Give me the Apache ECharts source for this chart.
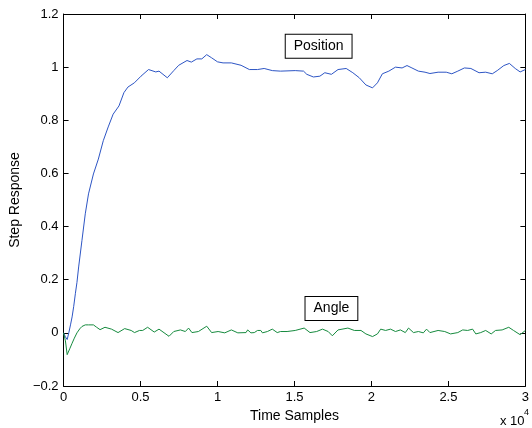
<!DOCTYPE html>
<html><head><meta charset="utf-8">
<script src="https://cdn.jsdelivr.net/npm/echarts@6/dist/echarts.min.js"></script>
<style>html,body{margin:0;padding:0;background:#fff}#c{width:532px;height:428px}</style>
</head><body><div id="c"></div>
<script>
const positionX = [0,120,235,340,450,555,660,770,870,980,1195,1410,1620,1940,2260,2580,2900,3220,3600,3920,4180,4600,5030,5520,5990,6200,6740,7160,7480,8020,8300,8660,8980,9300,9620,10000,10360,10900,11530,12070,12600,13030,13560,14090,15050,15590,15800,16230,16650,16970,17400,17830,18360,18790,19210,19640,20070,20390,20710,21130,21560,21990,22310,22630,23050,23480,23800,24330,24860,25220,25610,26040,26460,26990,27420,27850,28170,28600,28960,29340,29660,30000];
const positionY = [0,-0.015,-0.025,0.0,0.03,0.06,0.1,0.149,0.19,0.248,0.348,0.448,0.523,0.598,0.654,0.723,0.775,0.823,0.854,0.904,0.925,0.941,0.966,0.991,0.982,0.985,0.96,0.987,1.007,1.025,1.019,1.031,1.031,1.047,1.035,1.02,1.016,1.016,1.007,0.991,0.991,0.995,0.987,0.985,0.987,0.985,0.973,0.963,0.966,0.979,0.973,0.991,0.995,0.979,0.96,0.933,0.922,0.941,0.975,0.985,1.0,0.997,1.006,0.997,0.985,0.981,0.976,0.981,0.981,0.975,0.985,0.997,0.995,0.979,0.981,0.975,0.987,1.006,1.014,0.995,0.982,0.991];
const angleX = [0,120,235,400,555,700,870,1050,1195,1410,1620,1730,1940,2150,2370,2470,2690,2790,3115,3540,3970,4390,4610,4930,5140,5460,5570,5890,6200,6310,6850,7160,7270,7590,7700,7910,8020,8120,8230,8340,8440,8760,8870,9300,9620,10040,10150,10470,10900,11320,11850,11960,12170,12390,12600,12810,12920,13240,13560,13620,13880,14090,14520,15050,15160,15630,16010,16440,16820,17190,17460,17830,18470,18890,19320,19640,20070,20390,20600,20920,21240,21560,21880,22200,22410,22730,23050,23370,23580,23800,24330,24760,25140,25610,25930,26250,26570,26780,27100,27420,27780,28060,28490,28920,29230,29660,30000];
const angleY = [0,-0.03,-0.082,-0.06,-0.039,-0.02,0.0,0.015,0.024,0.03,0.03,0.026,0.03,0.021,0.012,0.009,0.021,0.024,0.014,0.001,0.016,0.009,0.001,0.009,0.009,0.021,0.021,0.003,0.014,0.014,-0.013,0.005,0.009,0.011,0.011,0.005,0.0,0.018,0.018,0.001,-0.004,0.005,0.011,0.025,0.001,0.005,0.005,0.0,0.011,0.0,0.001,0.011,0.0,0.001,0.009,0.009,0.0,0.005,0.014,0.014,0.001,0.005,0.005,0.009,0.011,0.018,0.001,0.005,0.014,0.005,-0.011,0.011,0.018,0.009,0.009,-0.004,-0.014,-0.004,0.014,0.009,0.014,0.005,0.011,0.001,0.018,0.001,0.005,0.0,0.014,0.001,0.009,0.005,-0.004,0.001,0.011,0.009,0.014,-0.004,0.001,0.009,-0.004,0.009,0.011,0.021,0.009,-0.007,0.009];
const xTickValues = [0,5000,10000,15000,20000,25000,30000];
const xTickLabels = ['0','0.5','1','1.5','2','2.5','3'];
const yTickValues = [-0.2,0,0.2,0.4,0.6,0.8,1,1.2];
const yTickLabels = ['\u22120.2','0','0.2','0.4','0.6','0.8','1','1.2'];
const annotationText = ['Position','Angle'];
const annotationX = [16570,17400];
const annotationY = [1.079,0.092];
const xAxisTitle = 'Time Samples';
const yAxisTitle = 'Step Response';
const exponentText = ['x 10','4'];

const FONT = 'Liberation Sans, Arial, Helvetica, sans-serif';
function lab(values, labels){
  return v => { for (let i=0;i<values.length;i++){ if (Math.abs(values[i]-v)<1e-9) return labels[i]; } return ''; };
}
const chart = echarts.init(document.getElementById('c'), null, {renderer:'canvas'});
const tick = {show:true, inside:true, length:5, lineStyle:{color:'#000', width:1}};
const line = {show:true, onZero:false, lineStyle:{color:'#000', width:1}};
function zip(a,b){ return a.map((v,i)=>[v,b[i]]); }
function annot(i){
  return {coord:[annotationX[i], annotationY[i]], name:annotationText[i], value:annotationText[i]};
}
const boxLabel = {show:true, position:'inside', formatter:p=>p.name, color:'#000', fontSize:14, fontFamily:FONT,
  backgroundColor:'#fff', borderColor:'#000', borderWidth:1, padding:[5,8,4,8]};
chart.setOption({
  animation:false,
  backgroundColor:'#fff',
  grid:{left:63, right:0, top:14, bottom:42, containLabel:false},
  xAxis:[
    {type:'value', min:0, max:30000, interval:5000, position:'bottom',
     axisLine:line, axisTick:tick, splitLine:{show:false},
     axisLabel:{show:true, margin:5, color:'#000', fontSize:13, fontFamily:FONT, formatter:lab(xTickValues,xTickLabels)},
     name:xAxisTitle, nameLocation:'middle', nameGap:20, nameTextStyle:{color:'#000', fontSize:14, fontFamily:FONT}},
    {type:'value', min:0, max:30000, interval:5000, position:'top',
     axisLine:line, axisTick:tick, splitLine:{show:false}, axisLabel:{show:false}}
  ],
  yAxis:[
    {type:'value', min:-0.2, max:1.2, interval:0.2, position:'left',
     axisLine:line, axisTick:tick, splitLine:{show:false},
     axisLabel:{show:true, margin:5, color:'#000', fontSize:13, fontFamily:FONT, formatter:lab(yTickValues,yTickLabels)},
     name:yAxisTitle, nameLocation:'middle', nameGap:40, nameRotate:90, nameTextStyle:{color:'#000', fontSize:14, fontFamily:FONT}},
    {type:'value', min:-0.2, max:1.2, interval:0.2, position:'right',
     axisLine:line, axisTick:tick, splitLine:{show:false}, axisLabel:{show:false}}
  ],
  series:[
    {type:'line', name:'Position', data:zip(positionX,positionY), showSymbol:false, symbol:'none',
     lineStyle:{color:'#2d55c4', width:1}, itemStyle:{color:'#2d55c4'},
     markPoint:{symbol:'rect', symbolSize:0, silent:true, label:boxLabel, data:[annot(0)]}},
    {type:'line', name:'Angle', data:zip(angleX,angleY), showSymbol:false, symbol:'none',
     lineStyle:{color:'#168a3e', width:1}, itemStyle:{color:'#168a3e'},
     markPoint:{symbol:'rect', symbolSize:0, silent:true, label:boxLabel, data:[annot(1)]}}
  ],
  graphic:[
    {type:'text', left:500, top:415, style:{text:exponentText[0], fill:'#000', font:'13px '+FONT}},
    {type:'text', left:524, top:408, style:{text:exponentText[1], fill:'#000', font:'9px '+FONT}}
  ]
});
</script></body></html>
